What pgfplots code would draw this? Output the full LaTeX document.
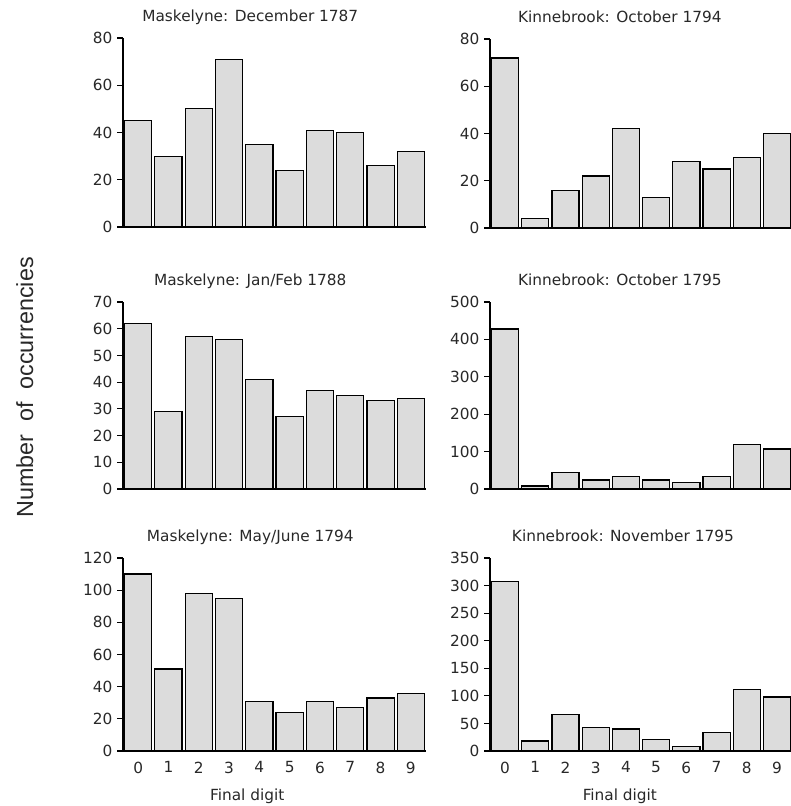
\documentclass[border=0pt]{standalone}
\usepackage{pgfplots}
\pgfplotsset{compat=1.18}
\usepackage{fontspec}
\setmainfont{DejaVu Sans}
\newfontfamily\labelfont{Liberation Sans}
\definecolor{barfill}{RGB}{220,220,220}
\definecolor{txt}{RGB}{40,40,40}
\pgfplotsset{
  panel/.style={
    scale only axis,
    xmin=-0.5, xmax=9.5, ymin=0,
    axis x line*=bottom, axis y line*=left,
    axis line style={line width=0.9pt, black},
    ybar, bar width=0.9,
    tick align=outside,
    major tick length=4.5pt,
    ytick style={line width=0.8pt, black},
    major x tick style={draw=none},
    /pgf/number format/assume math mode=true,
    ticklabel style={font=\fontsize{11.5}{13}\selectfont, text=txt},
    title style={font=\fontsize{11.5}{13}\selectfont, text=txt, anchor=base, yshift=6.5pt},
    xlabel style={font=\fontsize{11.5}{13}\selectfont, text=txt, anchor=base},
    clip=false,
  },
  notx/.style={xtick=\empty},
  withx/.style={xtick={0,...,9}, xticklabels={0,1,2,3,4,5,6,7,8,9}},
  barsty/.style={fill=barfill, draw=black, line width=0.9pt},
}
\begin{document}
\begin{tikzpicture}
\useasboundingbox (0pt,0pt) rectangle (592.5pt,-604.5pt);
% Top left
\begin{axis}[panel, notx, at={(92.25pt,-170.25pt)}, anchor=south west,
  width=227.25pt, height=141.75pt, ymax=80, ytick={0,20,40,60,80},
  title={Maskelyne: December 1787}, title style={at={(axis description cs:0.42,1)}}]
\addplot[barsty] coordinates {(0,45) (1,30) (2,50) (3,71) (4,35) (5,24) (6,41) (7,40) (8,26) (9,32)};
\end{axis}
% Top right
\begin{axis}[panel, notx, at={(367.5pt,-171pt)}, anchor=south west,
  width=226.5pt, height=141.75pt, ymax=80, ytick={0,20,40,60,80},
  title={Kinnebrook: October 1794}, title style={at={(axis description cs:0.43,1)}}]
\addplot[barsty] coordinates {(0,72) (1,4) (2,16) (3,22) (4,42) (5,13) (6,28) (7,25) (8,30) (9,40)};
\end{axis}
% Middle left
\begin{axis}[panel, notx, at={(92.25pt,-366.75pt)}, anchor=south west,
  width=227.25pt, height=140.25pt, ymax=70, ytick={0,10,...,70},
  title={Maskelyne: Jan/Feb 1788}, title style={at={(axis description cs:0.42,1)}}]
\addplot[barsty] coordinates {(0,62) (1,29) (2,57) (3,56) (4,41) (5,27) (6,37) (7,35) (8,33) (9,34)};
\end{axis}
% Middle right
\begin{axis}[panel, notx, at={(367.5pt,-366.75pt)}, anchor=south west,
  width=226.5pt, height=140.25pt, ymax=500, ytick={0,100,...,500},
  title={Kinnebrook: October 1795}, title style={at={(axis description cs:0.43,1)}}]
\addplot[barsty] coordinates {(0,428) (1,8) (2,45) (3,24) (4,34) (5,24) (6,17) (7,34) (8,118) (9,107)};
\end{axis}
% Bottom left
\begin{axis}[panel, withx, at={(92.25pt,-563.25pt)}, anchor=south west,
  width=227.25pt, height=144.75pt, ymax=120, ytick={0,20,...,120},
  title={Maskelyne: May/June 1794}, title style={at={(axis description cs:0.42,1)}},
  xlabel={Final digit}, xlabel style={at={(axis description cs:0.41,0)}, yshift=-36.75pt}]
\addplot[barsty] coordinates {(0,110) (1,51) (2,98) (3,95) (4,31) (5,24) (6,31) (7,27) (8,33) (9,36)};
\end{axis}
% Bottom right
\begin{axis}[panel, withx, at={(367.5pt,-563.25pt)}, anchor=south west,
  width=226.5pt, height=144.75pt, ymax=350, ytick={0,50,...,350},
  title={Kinnebrook: November 1795}, title style={at={(axis description cs:0.44,1)}},
  xlabel={Final digit}, xlabel style={at={(axis description cs:0.43,0)}, yshift=-36.75pt}]
\addplot[barsty] coordinates {(0,308) (1,18) (2,66) (3,43) (4,40) (5,21) (6,8) (7,33) (8,111) (9,98)};
\end{axis}
\node[rotate=90, anchor=base, font=\labelfont\fontsize{17.5}{20}\selectfont, text=txt] at (24.75pt,-290.6pt) {Number \ of \ occurrencies};
\end{tikzpicture}
\end{document}
